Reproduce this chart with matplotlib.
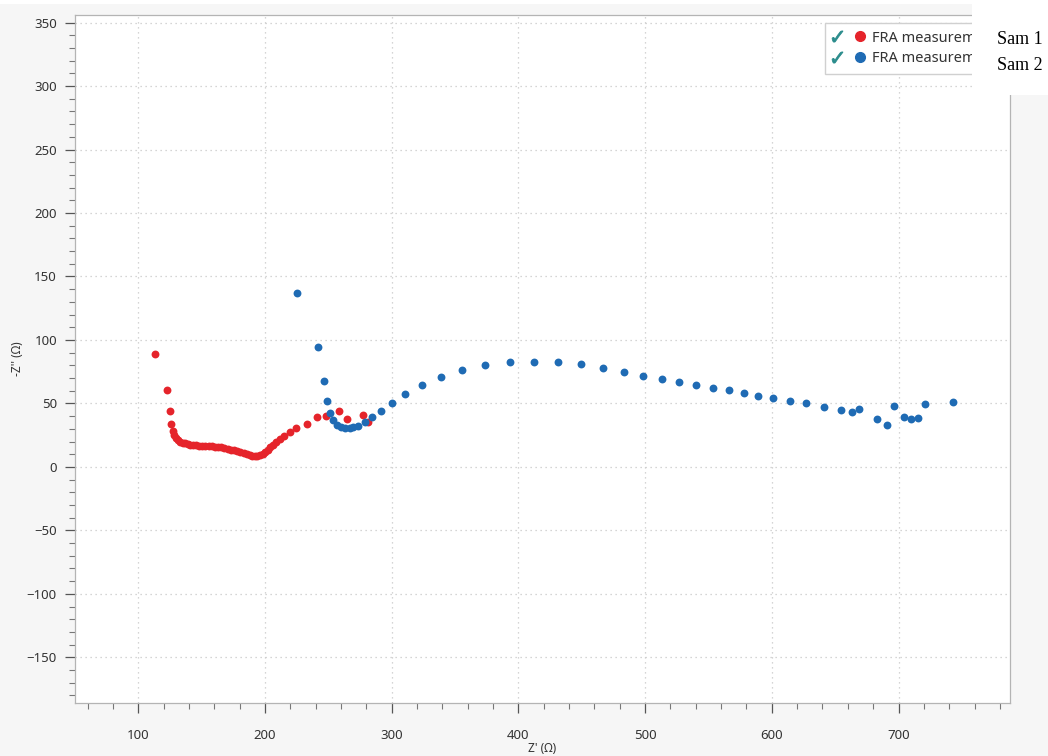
import numpy as np
import matplotlib
matplotlib.use('Agg')
import matplotlib.pyplot as plt
from matplotlib.lines import Line2D
from matplotlib.patches import Rectangle
from matplotlib.legend_handler import HandlerTuple
from matplotlib.ticker import MultipleLocator

plt.rcParams['font.family'] = ['Noto Sans', 'DejaVu Sans']

### DATA ###
# Sample 1 (red): Z' and -Z'' in ohm
sam1_zre = [113.4, 123.0, 125.0, 126.0, 127.5, 128.5, 130.0, 131.5, 133.0, 135.0,
            137.0, 139.0, 141.0, 143.0, 145.5, 148.0, 150.5, 153.0, 155.5, 158.0,
            160.5, 163.0, 165.5, 168.0, 170.5, 173.0, 175.5, 178.0, 180.5, 183.0,
            185.5, 188.0, 190.0, 192.0, 194.0, 196.0, 198.0, 200.0, 202.0, 204.0,
            206.0, 208.5, 211.5, 215.0, 219.5, 224.5, 233.5, 241.0, 248.0, 258.0,
            265.0, 277.0, 281.0]
sam1_zim = [89.0, 60.7, 44.0, 34.0, 28.0, 25.0, 23.0, 21.0, 20.0, 19.0,
            18.5, 18.0, 17.5, 17.0, 17.0, 16.8, 16.7, 16.6, 16.5, 16.3,
            16.0, 15.7, 15.3, 14.8, 14.3, 13.6, 13.0, 12.2, 11.5, 10.7,
            10.0, 9.3, 8.8, 8.5, 8.6, 9.2, 10.3, 11.8, 13.5, 15.3,
            17.2, 19.5, 22.0, 24.5, 27.5, 30.5, 34.0, 39.0, 40.0, 44.0,
            38.0, 41.0, 35.0]

# Sample 2 (blue)
sam2_zre = [225.4, 241.8, 246.4, 248.7, 251.4, 254.0, 256.6, 260.0, 263.5, 266.7,
            269.8, 273.0, 279.0, 284.6, 291.7, 300.0, 310.6, 323.7, 339.0, 355.6,
            374.0, 393.0, 412.0, 431.0, 449.0, 467.0, 483.0, 498.0, 513.0, 527.0,
            540.0, 553.6, 566.0, 578.4, 589.0, 601.0, 614.0, 627.0, 641.0, 654.5,
            663.4, 668.7, 682.7, 691.0, 696.6, 704.5, 709.8, 715.0, 721.0, 743.0]
sam2_zim = [137.0, 94.4, 68.0, 52.3, 42.8, 37.0, 33.0, 31.3, 30.5, 30.5,
            31.3, 32.6, 35.7, 39.0, 44.4, 50.7, 57.6, 64.4, 70.7, 76.0,
            79.9, 82.3, 82.3, 82.3, 80.7, 77.8, 74.7, 72.0, 69.0, 66.8,
            64.7, 62.0, 60.2, 58.1, 56.2, 54.0, 52.0, 50.0, 47.5, 45.0,
            43.4, 45.5, 37.6, 32.9, 48.3, 39.7, 37.9, 38.4, 49.4, 51.0]

series_labels = ['FRA measurement', 'FRA measurement']
sample_names = ['Sam 1', 'Sam 2']
colors = ['#e5242b', '#1f6bb4']

### PLOT ###
W, H = 1048, 756
fig = plt.figure(figsize=(W / 100, H / 100), dpi=100, facecolor='#f6f6f6')
ax = fig.add_axes([75 / W, 1 - 703 / H, (1010 - 75) / W, (703 - 15) / H])
ax.set_facecolor('white')

ax.scatter(sam1_zre, sam1_zim, s=32, color=colors[0], linewidths=0, zorder=3)
ax.scatter(sam2_zre, sam2_zim, s=32, color=colors[1], linewidths=0, zorder=3)

ax.set_xlim(50, 788)
ax.set_ylim(-186, 356)
ax.xaxis.set_major_locator(MultipleLocator(100))
ax.xaxis.set_minor_locator(MultipleLocator(20))
ax.yaxis.set_major_locator(MultipleLocator(50))
ax.yaxis.set_minor_locator(MultipleLocator(10))

ax.grid(True, which='major', color='#c8c8c8', linestyle=(0, (1, 3)), linewidth=0.9)
ax.set_axisbelow(True)

for side in ['left', 'bottom', 'top', 'right']:
	ax.spines[side].set_color('#b4b4b4')
	ax.spines[side].set_linewidth(0.9)

ax.tick_params(which='major', direction='out', length=7, width=0.9, color='#555555',
               labelsize=9.5, labelcolor='#333333', pad=6)
ax.tick_params(which='minor', direction='out', length=4, width=0.8, color='#777777')
ax.tick_params(axis='x', which='major', pad=12)

ax.set_xlabel("Z' (\u03a9)", fontsize=8.5, color='#333333', labelpad=0)
ax.set_ylabel("-Z'' (\u03a9)", fontsize=8.5, color='#333333', labelpad=2)

# legend with check mark + dot handles
handles = []
for c in colors:
	check = Line2D([], [], linestyle='none', marker='$\u2713$', markersize=8,
	               color='#2a8c8c', markeredgewidth=0.6)
	dot = Line2D([], [], linestyle='none', marker='o', markersize=7, color=c)
	handles.append((check, dot))
leg = fig.legend(handles, series_labels, loc='upper left',
                 bbox_to_anchor=(818 / W, 1 - 16 / H),
                 handler_map={tuple: HandlerTuple(ndivide=None, pad=0.9)},
                 handlelength=2.2, handletextpad=0.5, fontsize=10.5,
                 labelcolor='#333333', frameon=True, fancybox=False,
                 edgecolor='#d0d0d0', framealpha=1, borderpad=0.5,
                 labelspacing=0.4)

# white patch covering the right part of the legend
fig.patches.append(Rectangle((972 / W, 1 - 95 / H), 1 - 972 / W, 95 / H,
                             transform=fig.transFigure, facecolor='white',
                             edgecolor='none', zorder=10))
fig.patches.append(Rectangle((0, 1 - 4 / H), 1, 4 / H, transform=fig.transFigure,
                             facecolor='white', edgecolor='none', zorder=10))

for i, name in enumerate(sample_names):
	fig.text(997 / W, 1 - (39 + 26 * i) / H, name, fontsize=13,
	         family='Liberation Serif', va='center', ha='left', zorder=11)

fig.savefig('out.png', dpi=100, facecolor=fig.get_facecolor())
